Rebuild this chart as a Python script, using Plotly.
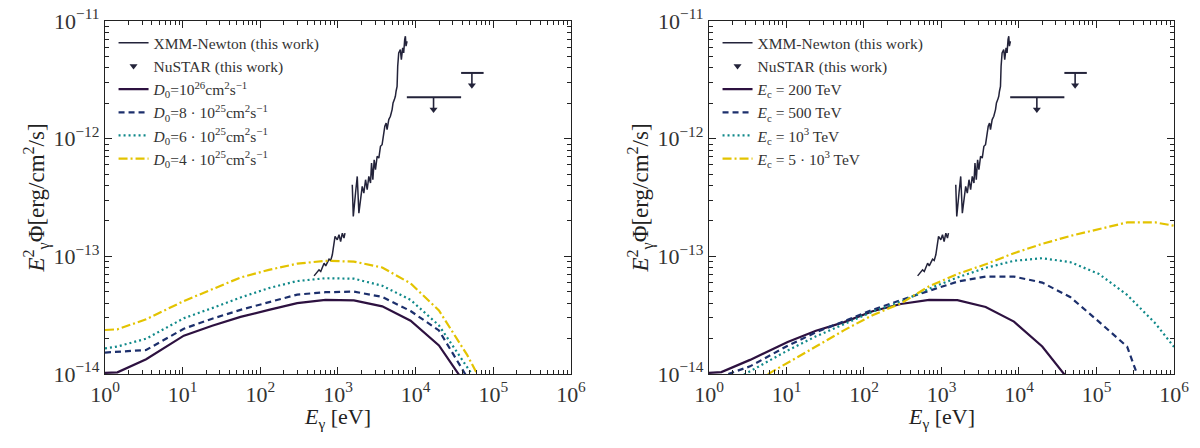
import plotly.graph_objects as go

# model energy grid, log10(E / eV)
log_e_grid = [0, 0.16, 0.53, 1.015, 1.38, 1.745, 2.11, 2.475, 2.84, 3.205,
              3.57, 3.935, 4.30, 4.665, 5.03, 5.395, 5.76, 6.0]

# left panel: varying D0, log10(E^2 Phi)
d0_1e26 = [-13.99, -13.986, -13.875, -13.674, -13.59, -13.515, -13.455, -13.398,
           -13.37, -13.375, -13.425, -13.547, -13.757, -14.11]
d0_8e25 = [-13.818, -13.812, -13.796, -13.615, -13.53, -13.455, -13.39, -13.325,
           -13.305, -13.30, -13.345, -13.465, -13.63, -14.03]
d0_6e25 = [-13.782, -13.766, -13.70, -13.526, -13.44, -13.35, -13.27, -13.21,
           -13.186, -13.19, -13.25, -13.37, -13.587, -13.944, -14.3]
d0_4e25 = [-13.626, -13.62, -13.535, -13.38, -13.28, -13.18, -13.115, -13.062,
           -13.038, -13.045, -13.095, -13.23, -13.46, -13.84, -14.3]

# right panel: varying cutoff energy
ec_200 = [-13.99, -13.984, -13.88, -13.728, -13.632, -13.559, -13.467, -13.405,
          -13.37, -13.372, -13.43, -13.555, -13.766, -14.07]
ec_500 = [-14.04, -14.02, -13.935, -13.76, -13.646, -13.548, -13.455, -13.372,
          -13.295, -13.215, -13.172, -13.172, -13.223, -13.348, -13.555, -13.767, -14.43]
ec_1e3 = [-14.17, -14.11, -13.977, -13.80, -13.68, -13.575, -13.47, -13.386,
          -13.275, -13.18, -13.098, -13.038, -13.016, -13.05, -13.149, -13.328,
          -13.57, -13.77]
ec_5e3 = [-14.29, -14.23, -14.09, -13.905, -13.766, -13.627, -13.50, -13.40,
          -13.255, -13.15, -13.068, -12.973, -12.894, -12.826, -12.769, -12.712,
          -12.712, -12.74]

# XMM-Newton spectrum (log10 values), two pieces
xmm_low_loge = [2.692, 2.756, 2.778, 2.821, 2.842, 2.885, 2.906, 2.927, 2.962,
                2.991, 3.013, 3.034, 3.056, 3.077, 3.090]
xmm_low_logf = [-13.166, -13.115, -13.129, -13.058, -13.081, -13.024, -13.035,
                -12.987, -12.831, -12.860, -12.817, -12.874, -12.803, -12.845, -12.803]
xmm_high_loge = [3.184, 3.197, 3.226, 3.248, 3.269, 3.291, 3.312, 3.333, 3.355,
                 3.376, 3.397, 3.419, 3.432, 3.449, 3.466, 3.483, 3.504, 3.526,
                 3.547, 3.568, 3.590, 3.603, 3.620, 3.632, 3.654, 3.675, 3.697,
                 3.709, 3.726, 3.739, 3.748, 3.761, 3.769, 3.782, 3.803, 3.816,
                 3.833, 3.846, 3.859, 3.868, 3.876, 3.889]
xmm_high_logf = [-12.391, -12.661, -12.462, -12.321, -12.633, -12.491, -12.406,
                 -12.462, -12.349, -12.434, -12.321, -12.377, -12.207, -12.349,
                 -12.179, -12.264, -12.150, -12.165, -12.065, -12.051, -11.952,
                 -11.895, -11.867, -11.923, -11.838, -11.810, -11.753, -11.696,
                 -11.668, -11.640, -11.597, -11.555, -11.384, -11.271, -11.243,
                 -11.328, -11.228, -11.271, -11.157, -11.129, -11.214, -11.172]

# NuSTAR upper limits
nustar_e_lo = [7.7e3, 3.85e4]
nustar_e_hi = [3.85e4, 7.5e4]
nustar_e_mid = [1.7e4, 5.3e4]
nustar_ul = [2.25e-12, 3.62e-12]

# tick labels
x_tick_exp = [0, 1, 2, 3, 4, 5, 6]
y_tick_exp = [-14, -13, -12, -11]

colors = ["#2d1140", "#1c2f6c", "#10898a", "#e3c300"]
dashes = ["solid", "6px,4px", "2px,3px", "9px,3px,2px,3px"]
font = "Liberation Serif, Times New Roman, serif"


def lin(vals):
    return [10 ** v for v in vals]


def power_labels(exps):
    return ["10<sup>" + str(e).replace("-", "−") + "</sup>" for e in exps]


xmm_x = lin(xmm_low_loge) + [None] + lin(xmm_high_loge)
xmm_y = lin(xmm_low_logf) + [None] + lin(xmm_high_logf)
tip = [u * 10 ** -0.105 for u in nustar_ul]
bar_x, bar_y = [], []
for lo, hi, u in zip(nustar_e_lo, nustar_e_hi, nustar_ul):
    bar_x += [lo, hi, None]
    bar_y += [u, u, None]

fig = go.Figure()

panels = [
    ("x", "y", "legend",
     [d0_1e26, d0_8e25, d0_6e25, d0_4e25],
     ["<i>D</i><sub>0</sub>=10<sup>26</sup>cm<sup>2</sup>s<sup>−1</sup>",
      "<i>D</i><sub>0</sub>=8 · 10<sup>25</sup>cm<sup>2</sup>s<sup>−1</sup>",
      "<i>D</i><sub>0</sub>=6 · 10<sup>25</sup>cm<sup>2</sup>s<sup>−1</sup>",
      "<i>D</i><sub>0</sub>=4 · 10<sup>25</sup>cm<sup>2</sup>s<sup>−1</sup>"]),
    ("x2", "y2", "legend2",
     [ec_200, ec_500, ec_1e3, ec_5e3],
     ["<i>E</i><sub>c</sub> = 200 TeV",
      "<i>E</i><sub>c</sub> = 500 TeV",
      "<i>E</i><sub>c</sub> = 10<sup>3</sup> TeV",
      "<i>E</i><sub>c</sub> = 5 · 10<sup>3</sup> TeV"]),
]

for xa, ya, leg, curves, names in panels:
    fig.add_trace(go.Scatter(
        x=xmm_x, y=xmm_y, mode="lines", name="XMM-Newton (this work)",
        line=dict(color="#23233a", width=1.5), xaxis=xa, yaxis=ya, legend=leg))
    fig.add_trace(go.Scatter(
        x=nustar_e_mid, y=tip, mode="markers", name="NuSTAR (this work)",
        marker=dict(symbol="triangle-down", size=7, color="#23233a"),
        error_y=dict(type="data", symmetric=False,
                     array=[u - t for u, t in zip(nustar_ul, tip)],
                     arrayminus=[0, 0], width=0, thickness=1.6, color="#23233a"),
        xaxis=xa, yaxis=ya, legend=leg))
    fig.add_trace(go.Scatter(
        x=bar_x, y=bar_y, mode="lines", showlegend=False,
        line=dict(color="#23233a", width=2), xaxis=xa, yaxis=ya))
    for vals, name, c, d in zip(curves, names, colors, dashes):
        fig.add_trace(go.Scatter(
            x=lin(log_e_grid[:len(vals)]), y=lin(vals), mode="lines", name=name,
            line=dict(color=c, width=2.2, dash=d),
            xaxis=xa, yaxis=ya, legend=leg))
    # x axis title, placed a little closer to the tick labels than plotly allows
    fig.add_annotation(
        text="<i>E</i><sub>γ</sub> [eV]", xref=xa + " domain", yref=ya + " domain",
        x=0.5, y=0, yanchor="middle", yshift=-44, showarrow=False,
        font=dict(size=22, color="#222"))

axis_style = dict(
    type="log", showline=True, linecolor="#222", linewidth=1.2, mirror="allticks",
    ticks="inside", ticklen=7, tickcolor="#222", automargin=False,
    showgrid=False, zeroline=False, tickfont=dict(size=22, color="#333"),
    minor=dict(ticks="inside", ticklen=3.5, tickcolor="#222", dtick="D1", showgrid=False),
)
x_ticks = dict(tickvals=lin(x_tick_exp), ticktext=power_labels(x_tick_exp))
y_ticks = dict(tickvals=lin(y_tick_exp), ticktext=power_labels(y_tick_exp))
ytitle = dict(text="<i>E</i><sup>2</sup><sub>γ</sub>Φ[erg/cm<sup>2</sup>/s]",
              font=dict(size=23, color="#222"), standoff=2)

legend_style = dict(
    y=0.985, yanchor="top", xanchor="left", bgcolor="rgba(0,0,0,0)",
    font=dict(size=15.5, color="#333", family=font), tracegroupgap=0, itemwidth=30,
)

fig.update_layout(
    width=1200, height=448,
    margin=dict(l=105, r=26, t=21, b=74),
    paper_bgcolor="white", plot_bgcolor="white",
    font=dict(family=font, color="#333"),
    xaxis=dict(domain=[0, 0.4359], range=[0, 6], **x_ticks, **axis_style),
    yaxis=dict(range=[-14, -11], title=ytitle, **y_ticks, **axis_style),
    xaxis2=dict(domain=[0.565, 1], range=[0, 6], anchor="y2", **x_ticks, **axis_style),
    yaxis2=dict(range=[-14, -11], anchor="x2", title=ytitle, **y_ticks, **axis_style),
    legend=dict(x=0.008, **legend_style),
    legend2=dict(x=0.573, **legend_style),
)

# drop the default page margin so the figure sits at the window corner
fig.write_html("out.html", config={"displayModeBar": False},
               post_script="document.body.style.margin = '0';")
